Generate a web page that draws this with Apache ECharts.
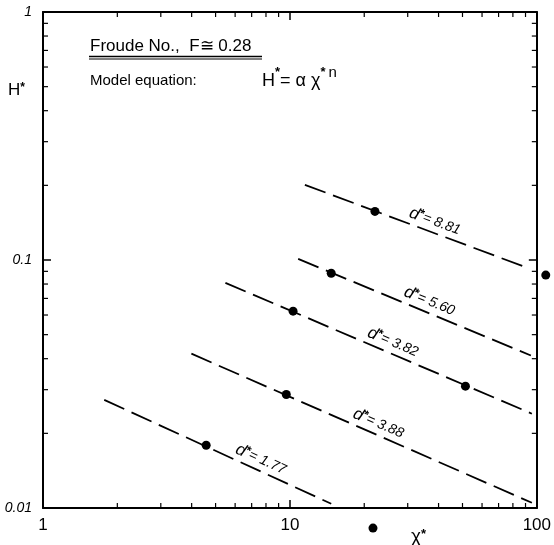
<!DOCTYPE html>
<html><head><meta charset="utf-8">
<script src="https://cdn.jsdelivr.net/npm/echarts@6/dist/echarts.min.js"></script>
<style>html,body{margin:0;padding:0;background:#fff}#c{width:554px;height:545px}</style>
</head><body><div id="c"></div>
<script>
// ---- data ----
const xTickLabels = ['1', '10', '100'];
const yTickLabels = ['0.01', '0.1', '1'];
const xMinorTicks = [2, 3, 4, 5, 6, 7, 8, 9, 20, 30, 40, 50, 60, 70, 80, 90];
const yMinorTicks = [0.02, 0.03, 0.04, 0.05, 0.06, 0.07, 0.08, 0.09, 0.2, 0.3, 0.4, 0.5, 0.6, 0.7, 0.8, 0.9];
const curveNames = ['8.81', '5.60', '3.82', '3.88', '1.77'];
const curveStart = [[11.5, 0.201], [10.8, 0.101], [5.48, 0.0809], [3.99, 0.0419], [1.77, 0.0273]];
const curveEnd   = [[92.0, 0.0928], [94.6, 0.0412], [95.5, 0.0240], [95.5, 0.0105], [14.7, 0.0104]];
const pointsX = [22.1, 14.7, 10.3, 51.4, 9.67, 4.58, 21.7, 108.7];
const pointsY = [0.157, 0.0884, 0.0622, 0.0310, 0.0287, 0.0179, 0.0083, 0.0869];
const labelX = [37.3, 35.3, 25.1, 21.9, 7.31];

const FONT = 'Liberation Sans';
const chart = echarts.init(document.getElementById('c'), null, {renderer: 'canvas'});

function xAx(pos, showLabel) {
  return {
    type: 'log', logBase: 10, min: 1, max: 100, position: pos,
    axisLine: {show: true, lineStyle: {color: '#000', width: 2}},
    axisTick: {show: true, inside: true, length: 8, lineStyle: {color: '#000', width: 1.5}},
    minorTick: {show: false},
    splitLine: {show: false}, minorSplitLine: {show: false},
    axisLabel: {show: showLabel, margin: 9, fontSize: 17, color: '#000', fontFamily: FONT,
      formatter: v => xTickLabels[Math.round(Math.log10(v))]}
  };
}
function yAx(pos, showLabel) {
  return {
    type: 'log', logBase: 10, min: 0.01, max: 1, position: pos,
    axisLine: {show: true, lineStyle: {color: '#000', width: 2}},
    axisTick: {show: true, inside: true, length: 8, lineStyle: {color: '#000', width: 1.5}},
    minorTick: {show: false},
    splitLine: {show: false}, minorSplitLine: {show: false},
    axisLabel: {show: showLabel, margin: 11, fontSize: 14, fontStyle: 'italic', color: '#000', fontFamily: FONT,
      formatter: v => yTickLabels[Math.round(Math.log10(v)) + 2]}
  };
}

const series = curveNames.map((nm, i) => ({
  type: 'line', name: 'd* = ' + nm, xAxisIndex: 0, yAxisIndex: 0,
  data: [curveStart[i], curveEnd[i]], symbol: 'none', silent: true,
  lineStyle: {color: '#000', width: 1.8, type: [22, 8]}
}));
series.push({
  type: 'scatter', xAxisIndex: 0, yAxisIndex: 0, clip: false,
  data: pointsX.map((x, i) => [x, pointsY[i]]),
  symbol: 'circle', symbolSize: 9, itemStyle: {color: '#000', opacity: 1}
});
// minor ticks (log positions) drawn through the axes' own scales
const TL = 5;
series.push({
  type: 'custom', xAxisIndex: 0, yAxisIndex: 0, silent: true, clip: false,
  data: xMinorTicks.map(v => [v, 0.1]),
  renderItem: (params, api) => {
    const v = api.value(0);
    const b = api.coord([v, 0.01]);
    const t = api.coord([v, 1]);
    return {type: 'group', children: [
      {type: 'line', shape: {x1: b[0], y1: b[1], x2: b[0], y2: b[1] - TL}, style: {stroke: '#000', lineWidth: 1.2}},
      {type: 'line', shape: {x1: t[0], y1: t[1], x2: t[0], y2: t[1] + TL}, style: {stroke: '#000', lineWidth: 1.2}}
    ]};
  }
});
series.push({
  type: 'custom', xAxisIndex: 0, yAxisIndex: 0, silent: true, clip: false,
  data: yMinorTicks.map(v => [10, v]),
  renderItem: (params, api) => {
    const v = api.value(1);
    const l = api.coord([1, v]);
    const r = api.coord([100, v]);
    return {type: 'group', children: [
      {type: 'line', shape: {x1: l[0], y1: l[1], x2: l[0] + TL, y2: l[1]}, style: {stroke: '#000', lineWidth: 1.2}},
      {type: 'line', shape: {x1: r[0], y1: r[1], x2: r[0] - TL, y2: r[1]}, style: {stroke: '#000', lineWidth: 1.2}}
    ]};
  }
});

const option = {
  animation: false,
  backgroundColor: '#fff',
  grid: {left: 43, right: 11, top: 12, bottom: 37, containLabel: false},
  xAxis: [xAx('bottom', true), xAx('top', false)],
  yAxis: [yAx('left', true), yAx('right', false)],
  series: series
};
chart.setOption(option);

// text elements
const g = [
  {type: 'text', x: 90, y: 46, style: {text: 'Froude No.,  F≅ 0.28', font: '17px ' + FONT, fill: '#000', align: 'left', verticalAlign: 'middle'}},
  {type: 'line', shape: {x1: 89, y1: 56.5, x2: 262, y2: 56.5}, style: {stroke: '#000', lineWidth: 1.3}},
  {type: 'line', shape: {x1: 89, y1: 59, x2: 262, y2: 59}, style: {stroke: '#000', lineWidth: 1}},
  {type: 'text', x: 90, y: 81, style: {text: 'Model equation:', font: '15px ' + FONT, fill: '#000', align: 'left', verticalAlign: 'middle'}},
  {type: 'text', x: 262, y: 78, style: {
    text: '{a|H}{s|*}{a|= α χ}{s|*}{n|n}', fill: '#000', align: 'left', verticalAlign: 'middle',
    rich: {
      a: {fontSize: 18, fontFamily: FONT, verticalAlign: 'bottom'},
      s: {fontSize: 13, fontFamily: FONT, fontWeight: 'bold', verticalAlign: 'top'},
      n: {fontSize: 15, fontFamily: FONT, verticalAlign: 'top', padding: [0, 0, 10, 3]}
    }}},
  {type: 'text', x: 8, y: 90, style: {
    text: '{a|H}{s|*}', fill: '#000', align: 'left', verticalAlign: 'middle',
    rich: {a: {fontSize: 17, fontFamily: FONT}, s: {fontSize: 12, fontFamily: FONT, fontWeight: 'bold', verticalAlign: 'top'}}}},
  {type: 'text', x: 411, y: 537, style: {
    text: '{a|χ}{s|*}', fill: '#000', align: 'left', verticalAlign: 'middle',
    rich: {a: {fontSize: 19, fontFamily: FONT}, s: {fontSize: 13, fontFamily: FONT, fontWeight: 'bold', verticalAlign: 'top'}}}}
];

curveNames.forEach((nm, i) => {
  const p0 = chart.convertToPixel({xAxisIndex: 0, yAxisIndex: 0}, curveStart[i]);
  const p1 = chart.convertToPixel({xAxisIndex: 0, yAxisIndex: 0}, curveEnd[i]);
  const px = chart.convertToPixel({xAxisIndex: 0}, labelX[i]);
  const t = (px - p0[0]) / (p1[0] - p0[0]);
  const py = p0[1] + t * (p1[1] - p0[1]);
  const ang = Math.atan2(p1[1] - p0[1], p1[0] - p0[0]);
  const off = 11;
  g.push({type: 'text', x: px + Math.sin(ang) * off, y: py - Math.cos(ang) * off, rotation: -ang,
    style: {text: '{d|d}{s|*}{v|= ' + nm + '}', fill: '#000', align: 'center', verticalAlign: 'middle',
      rich: {
        d: {fontSize: 17, fontFamily: FONT, fontStyle: 'italic'},
        s: {fontSize: 12, fontFamily: FONT, fontWeight: 'bold', verticalAlign: 'top'},
        v: {fontSize: 14, fontFamily: FONT, fontStyle: 'italic'}
      }}});
});
chart.setOption({graphic: {elements: g}});
</script>
</body></html>
